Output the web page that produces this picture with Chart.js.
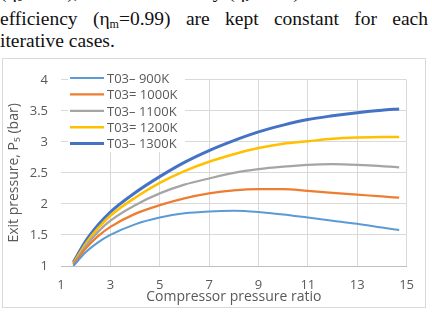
<!DOCTYPE html>
<html>
<head>
<meta charset="utf-8">
<script src="https://cdn.jsdelivr.net/npm/chart.js@4/dist/chart.umd.min.js"></script>
<style>
  body { margin: 0; width: 432px; height: 312px; background: #fff; overflow: hidden; position: relative; }
  .txt { position: absolute; left: 0; width: 428px; font-family: "Liberation Serif", "Times New Roman", serif;
         font-size: 19.5px; color: #111; white-space: nowrap; text-align: justify; text-align-last: justify; line-height: 22px; }
  .txt sub { font-size: 12px; vertical-align: -3px; line-height: 0; }
  #box { position: absolute; left: 2px; top: 58px; width: 422px; height: 248px; border: 1px solid #d9d9d9; }
</style>
</head>
<body>
<div class="txt" style="top:-19px">(η<sub>c</sub>=0.85), turbine efficiency (η<sub>t</sub>=0.88) and mechanical</div>
<div class="txt" style="top:8px">efficiency (η<sub>m</sub>=0.99) are kept constant for each</div>
<div class="txt" style="top:30px; text-align-last:left">iterative cases.</div>
<div id="box"><canvas id="chart" width="422" height="248"></canvas></div>
<script>
// compressor pressure ratio
const ratio = [1.5, 2, 2.5, 3, 4, 5, 6, 7, 8, 9, 10, 11, 12, 13, 14, 14.7];
// exit pressure P5 (bar) for each T03
const t900  = [1.00, 1.22, 1.38, 1.50, 1.67, 1.78, 1.85, 1.88, 1.89, 1.87, 1.83, 1.78, 1.73, 1.68, 1.62, 1.58];
const t1000 = [1.02, 1.28, 1.48, 1.63, 1.84, 1.98, 2.09, 2.17, 2.22, 2.24, 2.24, 2.21, 2.18, 2.15, 2.12, 2.10];
const t1100 = [1.03, 1.32, 1.55, 1.73, 1.98, 2.17, 2.31, 2.41, 2.50, 2.56, 2.60, 2.63, 2.64, 2.63, 2.61, 2.59];
const t1200 = [1.04, 1.36, 1.61, 1.81, 2.10, 2.34, 2.53, 2.68, 2.80, 2.90, 2.97, 3.01, 3.05, 3.07, 3.08, 3.08];
const t1300 = [1.06, 1.40, 1.66, 1.87, 2.18, 2.44, 2.67, 2.86, 3.02, 3.16, 3.27, 3.36, 3.42, 3.47, 3.51, 3.53];
const labels = ['T03– 900K', 'T03= 1000K', 'T03– 1100K', 'T03= 1200K', 'T03– 1300K'];
const colors = ['#5b9bd5', '#ed7d31', '#a5a5a5', '#ffc000', '#4472c4'];
const widths = [2, 2.25, 2.25, 2.5, 3];

const series = [t900, t1000, t1100, t1200, t1300];
const font = 'Open Sans';
const grey = '#595959';

const insideLegend = {
  id: 'insideLegend',
  afterDraw(chart) {
    const ctx = chart.ctx;
    ctx.save();
    ctx.fillStyle = '#fff';
    ctx.fillRect(65, 7, 117, 86);
    ctx.font = '13px "' + font + '"';
    ctx.textBaseline = 'middle';
    chart.data.datasets.forEach((ds, i) => {
      const y = 19 + i * 16.4;
      ctx.strokeStyle = ds.borderColor;
      ctx.lineWidth = ds.borderWidth;
      ctx.beginPath();
      ctx.moveTo(67, y);
      ctx.lineTo(101, y);
      ctx.stroke();
      ctx.fillStyle = grey;
      ctx.fillText(ds.label, 104, y + 1);
    });
    ctx.restore();
  }
};

new Chart(document.getElementById('chart'), {
  type: 'line',
  data: {
    datasets: series.map((s, i) => ({
      label: labels[i],
      data: ratio.map((r, j) => ({ x: r, y: s[j] })),
      borderColor: colors[i],
      borderWidth: widths[i],
      pointRadius: 0,
      fill: false,
      cubicInterpolationMode: 'monotone'
    }))
  },
  options: {
    responsive: false,
    animation: false,
    devicePixelRatio: 1,
    layout: { padding: { top: 13, right: 17, left: 0, bottom: 0 } },
    plugins: { legend: { display: false }, tooltip: { enabled: false } },
    scales: {
      x: {
        type: 'linear', min: 1, max: 15,
        afterFit: s => { s.height = 41; },
        ticks: { stepSize: 2, color: grey, padding: 11, font: { family: font, size: 13 } },
        grid: { drawTicks: false, color: c => c.tick && c.tick.value === 1 ? 'rgba(0,0,0,0)' : '#d9d9d9' },
        border: { display: true, color: '#bfbfbf' },
        title: { display: true, text: 'Compressor pressure ratio', color: grey, padding: { top: 0, bottom: 2 }, font: { family: font, size: 14 } }
      },
      y: {
        min: 1, max: 4,
        afterFit: s => { s.width = 58; },
        ticks: { stepSize: 0.5, color: grey, padding: 13, font: { family: font, size: 13 }, callback: v => String(v) },
        grid: { drawTicks: false, color: '#d9d9d9' },
        border: { display: false },
        title: { display: true, text: 'Exit pressure, P₅ (bar)', color: grey, padding: { top: 3, bottom: 0 }, font: { family: font, size: 14 } }
      }
    }
  },
  plugins: [insideLegend]
});
</script>
</body>
</html>
